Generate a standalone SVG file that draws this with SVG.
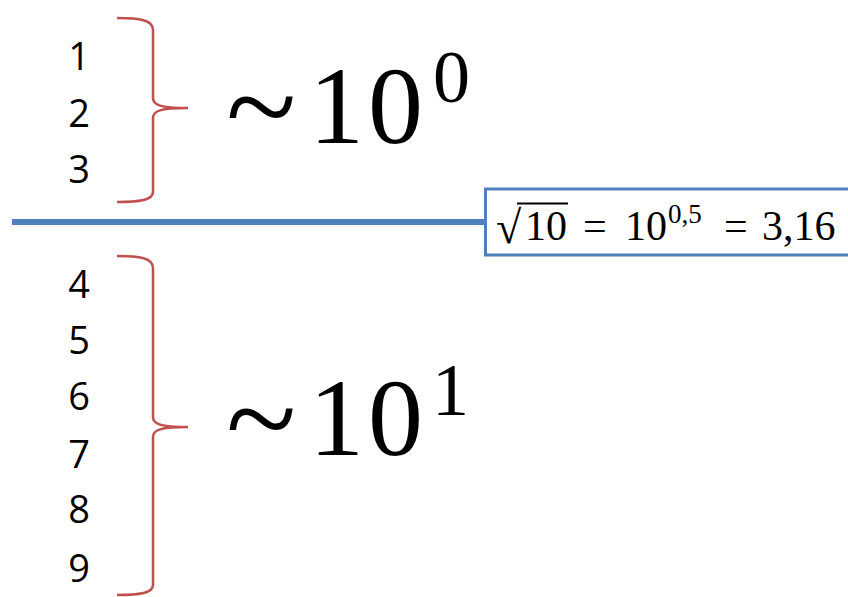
<svg xmlns="http://www.w3.org/2000/svg" width="848" height="597" viewBox="0 0 848 597">
<style>
.num{font-family:"Open Sans","Noto Sans",sans-serif;font-size:38px;fill:#000;text-anchor:middle}
.big{font-family:"Liberation Serif",serif;font-size:110px;fill:#000;letter-spacing:4px}
.sup{font-family:"Liberation Serif",serif;font-size:74px;fill:#000}
.tl{font-family:"Liberation Serif",serif;font-size:130px;fill:#000}
.box{font-family:"Liberation Serif",serif;font-size:42px;fill:#000}
.bsup{font-family:"Liberation Serif",serif;font-size:27px;fill:#000}
.brace{fill:none;stroke:#C0504D;stroke-width:2.5}
.blue{stroke:#4F81BD}
</style>
<rect width="848" height="597" fill="#fff"/>
<g id="numbers-top">
<text class="num" x="79" y="70">1</text>
<text class="num" x="79" y="127">2</text>
<text class="num" x="79" y="183">3</text>
</g>
<g id="numbers-bottom">
<text class="num" x="79" y="298">4</text>
<text class="num" x="79" y="354">5</text>
<text class="num" x="79" y="410">6</text>
<text class="num" x="79" y="468">7</text>
<text class="num" x="79" y="523">8</text>
<text class="num" x="79" y="582">9</text>
</g>
<g id="connectors">
<path class="brace" d="M117,18 C140,18 153,20 153,30 L153,98 C153,105 160,108 188,108 C160,108 153,111 153,118 L153,192 C153,200 140,202 117,202"/>
<path class="brace" d="M117,256 C140,256 153,258 153,268 L153,417 C153,424 160,427 188,427 C160,427 153,430 153,437 L153,585 C153,593 140,595 117,595"/>
<line class="blue" x1="12" y1="222" x2="487" y2="222" stroke-width="6"/>
</g>
<g id="label-top">
<text class="tl" x="226" y="150">~</text>
<text class="big" x="309" y="143">10</text>
<text class="sup" x="433" y="102">0</text>
</g>
<g id="label-bottom">
<text class="tl" x="226" y="462">~</text>
<text class="big" x="309" y="455">10</text>
<text class="sup" x="432" y="415">1</text>
</g>
<g id="formula-box">
<rect x="485.5" y="189" width="380" height="66" fill="#fff" stroke="#4F81BD" stroke-width="3"/>
<text class="box" x="496" y="243" style="font-size:46px">√</text>
<line x1="517" y1="203.5" x2="568" y2="203.5" stroke="#000" stroke-width="2.2"/>
<text class="box" x="525" y="240">10</text>
<text class="box" x="583" y="240">=</text>
<text class="box" x="625" y="240">10</text>
<text class="bsup" x="668" y="223">0,5</text>
<text class="box" x="724" y="240">=</text>
<text class="box" x="762" y="240">3,16</text>
</g>
</svg>
